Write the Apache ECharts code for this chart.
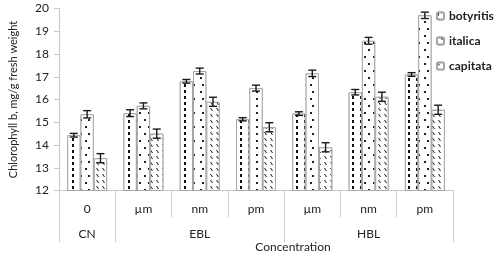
<!DOCTYPE html>
<html>
<head>
<meta charset="utf-8">
<script src="https://cdn.jsdelivr.net/npm/echarts@6/dist/echarts.min.js"></script>
<style>
    html, body { margin: 0; padding: 0; background: #fff; }
    #chart { width: 500px; height: 256px; }
</style>
</head>
<body>
<div id="chart"></div>
<script>
// 浓度（第一层）与处理组（第二层）
const concentrations = ['0', 'µm', 'nm', 'pm', 'µm', 'nm', 'pm'];
const groupNames = ['CN', 'EBL', 'HBL'];
const groupSizes = [1, 3, 3]; // 每组包含的类目数

const seriesNames = ['botyritis', 'italica', 'capitata'];
const botyritis = [14.43, 15.4, 16.8, 15.13, 15.38, 16.32, 17.1];
const italica   = [15.35, 15.72, 17.25, 16.5, 17.15, 18.58, 19.7];
const capitata  = [13.42, 14.5, 15.9, 14.78, 13.9, 16.12, 15.55];

// 误差（±）
const botyritisErr = [0.08, 0.15, 0.08, 0.07, 0.08, 0.12, 0.08];
const italicaErr   = [0.16, 0.13, 0.13, 0.13, 0.14, 0.15, 0.14];
const capitataErr  = [0.2, 0.2, 0.2, 0.2, 0.2, 0.2, 0.2];

const values = [botyritis, italica, capitata];
const errors = [botyritisErr, italicaErr, capitataErr];

// 组边界与组中心
const groupEdges = [0];
groupSizes.forEach(n => groupEdges.push(groupEdges[groupEdges.length - 1] + n));
const groupCenters = groupNames.map((g, i) => (groupEdges[i] + groupEdges[i + 1]) / 2);

const font = 'Lato, "Liberation Sans", sans-serif';
const gapRatio = 0.29;

const decals = [
    { symbol: 'rect', symbolSize: 1, dashArrayX: [1.5, 5.2], dashArrayY: [3, 3], color: '#111', backgroundColor: '#fff' },
    { symbol: 'rect', symbolSize: 1, dashArrayX: [[1.2, 5.8], [0, 3.5, 1.2, 2.3]], dashArrayY: [1.2, 4.5], color: '#222', backgroundColor: '#fff' },
    { symbol: 'path://M0,0L1,0L3,3L2,3Z', symbolSize: 1, dashArrayX: [3, 3], dashArrayY: [3, 3], color: '#111', backgroundColor: '#fff' }
];

const barSeries = seriesNames.map((name, i) => ({
    name: name,
    type: 'bar',
    data: values[i],
    barGap: 0,
    barCategoryGap: gapRatio * 100 + '%',
    itemStyle: {
        color: '#fff',
        borderColor: '#a6a6a6',
        borderWidth: 1,
        decal: decals[i]
    }
}));

const errorSeries = seriesNames.map((name, i) => ({
    type: 'custom',
    name: name + '-err',
    data: values[i].map((v, k) => [k, v - errors[i][k], v + errors[i][k]]),
    encode: { x: 0, y: [1, 2] },
    z: 5,
    renderItem: function (params, api) {
        const band = api.size([1, 0])[0];
        const barW = band * (1 - gapRatio) / 3;
        const lo = api.coord([api.value(0), api.value(1)]);
        const hi = api.coord([api.value(0), api.value(2)]);
        const x = lo[0] + (i - 1) * barW;
        const cap = 4;
        const style = { stroke: '#1a1a1a', lineWidth: 1.4 };
        return {
            type: 'group',
            children: [
                { type: 'line', shape: { x1: x, y1: lo[1], x2: x, y2: hi[1] }, style: style },
                { type: 'line', shape: { x1: x - cap, y1: lo[1], x2: x + cap, y2: lo[1] }, style: style },
                { type: 'line', shape: { x1: x - cap, y1: hi[1], x2: x + cap, y2: hi[1] }, style: style }
            ]
        };
    }
}));

const myChart = echarts.init(document.getElementById('chart'));
const option = {
    animation: false,
    textStyle: { fontFamily: font },
    title: {
        text: 'Concentration',
        left: 288,
        top: 236,
        textAlign: 'center',
        textStyle: { fontFamily: font, fontSize: 12, fontWeight: 'normal', color: '#222' }
    },
    legend: {
        orient: 'vertical',
        left: 431,
        top: 5,
        itemWidth: 7,
        itemHeight: 7,
        itemGap: 13,
        data: seriesNames,
        textStyle: { fontFamily: font, fontSize: 12, fontWeight: 'bold', color: '#222' }
    },
    grid: {
        left: 58,
        right: 47,
        top: 8.5,
        bottom: 65.5,
        containLabel: false
    },
    xAxis: [
        {
            type: 'category',
            data: concentrations,
            axisLine: { show: true, lineStyle: { color: '#c8c8c8' } },
            axisTick: { show: true, interval: 0, length: 27, lineStyle: { color: '#d0d0d0' } },
            axisLabel: { interval: 0, margin: 13, fontSize: 12, color: '#222' }
        },
        {
            // 第二层：处理组
            type: 'value',
            position: 'bottom',
            min: 0,
            max: concentrations.length,
            axisLine: { show: false },
            splitLine: { show: false },
            axisTick: {
                show: true,
                length: 52,
                customValues: groupEdges,
                lineStyle: { color: '#d0d0d0' }
            },
            axisLabel: {
                margin: 38,
                fontSize: 12,
                color: '#222',
                customValues: groupCenters,
                formatter: function (v) { return groupNames[groupCenters.indexOf(v)]; }
            }
        }
    ],
    yAxis: {
        type: 'value',
        min: 12,
        max: 20,
        interval: 1,
        name: 'Chlorophyll b, mg/g fresh weight',
        nameLocation: 'middle',
        nameGap: 40,
        nameTextStyle: { fontFamily: font, fontSize: 11, color: '#222' },
        axisLine: { show: true, lineStyle: { color: '#c8c8c8' } },
        axisTick: { show: true, length: 5, lineStyle: { color: '#c8c8c8' } },
        axisLabel: { margin: 10, fontSize: 12, color: '#222' },
        splitLine: { show: false }
    },
    series: barSeries.concat(errorSeries)
};
myChart.setOption(option);
</script>
</body>
</html>
